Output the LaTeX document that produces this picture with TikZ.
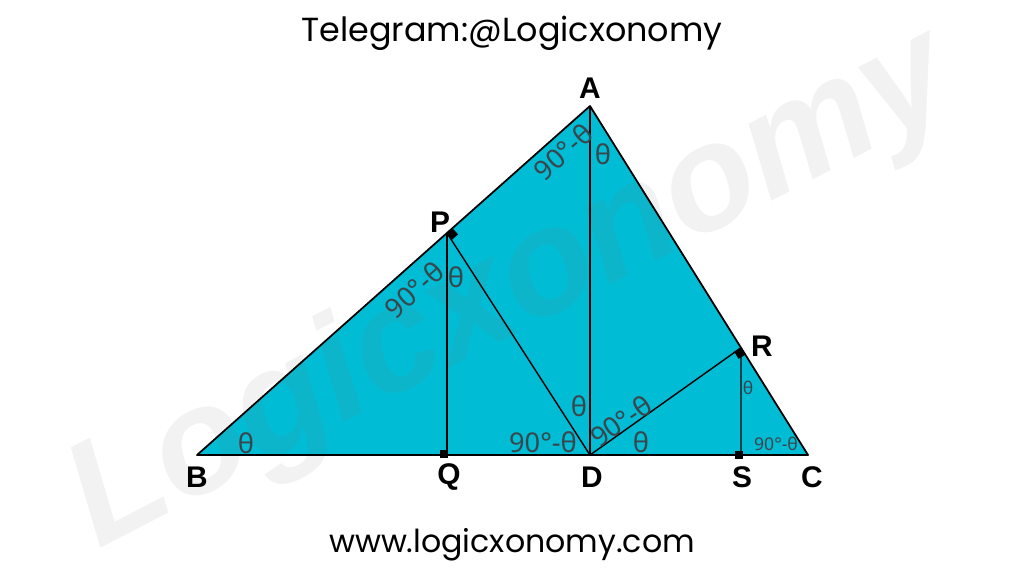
\documentclass[tikz,border=0pt]{standalone}
\usepackage{fontspec}
\usetikzlibrary{calc}
\newfontfamily\titlefont{Poppins}
\newfontfamily\labfont{Liberation Sans}
\newfontfamily\angfont{Noto Sans}
\newfontfamily\wmfont{Liberation Sans}
\definecolor{tri}{RGB}{0,188,212}
\definecolor{anggray}{RGB}{58,70,76}
\begin{document}
\begin{tikzpicture}[x=0.02cm,y=-0.02cm,
  lab/.style={font=\labfont\bfseries\fontsize{17}{17}\selectfont, inner sep=0},
  ang/.style={font=\angfont\fontsize{15.5}{15.5}\selectfont, text=anggray, inner sep=0},
  angs/.style={font=\angfont\fontsize{10}{10}\selectfont, text=anggray, inner sep=0},
  sq/.style={fill=black, draw=none, inner sep=0, minimum size=0.17cm},
  edge/.style={line width=1pt, line join=round},
  inner/.style={line width=0.8pt}]
\useasboundingbox (0,0) rectangle (1024,576);
% points
\coordinate (A) at (590,106);
\coordinate (B) at (197,455);
\coordinate (C) at (808,455);
\coordinate (D) at (590,455);
\coordinate (P) at (447,233);
\coordinate (Q) at (447,455);
\coordinate (R) at ($(A)!0.6927!(C)$);
\coordinate (S) at (741,455);
% fill
\fill[tri] (A) -- (B) -- (C) -- cycle;
% watermark
\node[rotate=27.4, text=gray, opacity=0.1, inner sep=0,
      font=\wmfont\bfseries\itshape\fontsize{85}{85}\selectfont] (wm) at (512,292) {Logicxonomy};
% inner lines
\draw[inner] (A) -- (D);
\draw[inner] (P) -- (Q);
\draw[inner] (P) -- (D);
\draw[inner] (D) -- (R);
\draw[inner] (R) -- (S);
% outline
\draw[edge] (A) -- (B) -- (C) -- cycle;
% right-angle marks
\node[sq] (mQ) at (444,454) {};
\node[sq] (mS) at (739,455) {};
\node[sq, rotate=41.6] (mP) at (452,234) {};
\node[sq, rotate=-58] (mR) at (740,353) {};
% vertex labels
\node[lab] (lA) at (590,88) {A};
\node[lab] (lB) at (197,477) {B};
\node[lab] (lQ) at (449,477) {Q};
\node[lab] (lD) at (592,477) {D};
\node[lab] (lS) at (742,477) {S};
\node[lab] (lC) at (812,477) {C};
\node[lab] (lP) at (440,222) {P};
\node[lab] (lR) at (762,346) {R};
% angle labels
\node[ang, rotate=41.6] (a1) at (563,152) {90°-θ};
\node[ang] (a2) at (603,154) {θ};
\node[ang, rotate=41.6] (a3) at (414,290) {90°-θ};
\node[ang] (a4) at (456,277) {θ};
\node[ang] (a5) at (579,406) {θ};
\node[ang] (a6) at (543,442) {90°-θ};
\node[ang, rotate=34.8] (a7) at (621,421) {90°-θ};
\node[ang] (a8) at (641,442) {θ};
\node[ang] (a9) at (246,443) {θ};
\node[angs] (a10) at (748,388) {θ};
\node[angs] (a11) at (776,444) {90°-θ};
% texts
\node[inner sep=0, font=\titlefont\fontsize{19}{19}\selectfont] (title) at (512,33) {Telegram:@Logicxonomy};
\node[inner sep=0, font=\titlefont\fontsize{18}{18}\selectfont] (web) at (512,545) {www.logicxonomy.com};
\end{tikzpicture}
\end{document}
